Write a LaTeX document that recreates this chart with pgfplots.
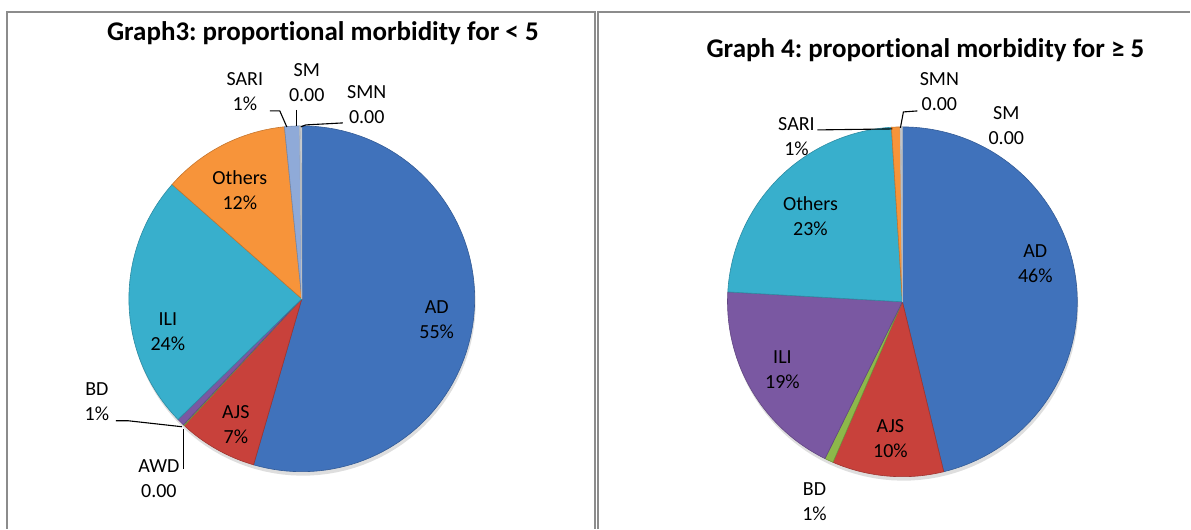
\documentclass[border=0pt]{standalone}
\usepackage{fontspec}
\setmainfont{Carlito}[Ligatures=NoCommon]
\usepackage{pgfplots}
\pgfplotsset{compat=1.18}
\frenchspacing
\definecolor{cAD}{HTML}{4072BB}
\definecolor{cAJS}{HTML}{C8413B}
\definecolor{cGreen}{HTML}{8DB84A}
\definecolor{cPurple}{HTML}{7A58A2}
\definecolor{cTeal}{HTML}{38AFCC}
\definecolor{cOrange}{HTML}{F7943A}
\definecolor{cLight}{HTML}{8FAAD8}
\definecolor{cPale}{HTML}{E4E8EE}
\definecolor{frame}{HTML}{8C8C8C}
% pie geometry (axis units = px)
\def\cx{0}\def\cy{0}\def\rr{0}\gdef\cum{0}
\newcommand\slice[2]{%
  \pgfmathsetmacro\sa{90-3.6*\cum}%
  \pgfmathsetmacro\sb{90-3.6*(\cum+#1)}%
  \edef\doit{\noexpand\addplot[fill=#2, draw=#2!80!black, line width=0.6pt,
     domain=\sb:\sa, samples=90, variable=\noexpand\t]
     ({\cx+\rr*cos(\noexpand\t)},{\cy-\rr*sin(\noexpand\t)}) -- (axis cs:\cx,\cy) -- cycle;}%
  \doit
  \pgfmathsetmacro\newcum{\cum+#1}\xdef\cum{\newcum}}
\newcommand\shadow{%
  \edef\doit{\noexpand\addplot[fill=black!13, draw=none, domain=0:360, samples=120, variable=\noexpand\t]
     ({\cx+1+\rr*cos(\noexpand\t)},{\cy+4+\rr*sin(\noexpand\t)}) -- cycle;}\doit}
\newcommand\lbl{\fontsize{20pt}{25pt}\selectfont}
\begin{document}
\begin{tikzpicture}
\path (0,0) rectangle (1191pt,529pt);
\begin{axis}[at={(0,0)}, anchor=south west, width=1191pt, height=529pt,
  scale only axis, xmin=0, xmax=1191, ymin=0, ymax=529, y dir=reverse,
  hide axis, clip=false]
% frames
\addplot[frame, line width=1.6pt] coordinates {(7,529) (7,12) (595.5,12) (595.5,529)};
\addplot[frame, line width=1.6pt] coordinates {(598.5,529) (598.5,12) (1191,12)};
% ---- Graph 3 (< 5): AD, AJS, AWD, BD, ILI, Others, SARI, SM, SMN
\def\cx{302}\def\cy{299}\def\rr{173}\gdef\cum{0}
\shadow
\slice{54.5}{cAD}
\slice{7.4}{cAJS}
\slice{0.1}{cGreen}
\slice{0.7}{cPurple}
\slice{23.8}{cTeal}
\slice{11.9}{cOrange}
\slice{1.4}{cLight}
\slice{0.1}{cPale}
\slice{0.1}{cPale}
% ---- Graph 4 (>= 5): AD, AJS, BD, ILI, Others, SARI, SMN, SM
\def\cx{903}\def\cy{302}\def\rr{175}\gdef\cum{0}
\shadow
\slice{46.2}{cAD}
\slice{10.3}{cAJS}
\slice{0.8}{cGreen}
\slice{18.6}{cPurple}
\slice{23.1}{cTeal}
\slice{0.8}{cOrange}
\slice{0.1}{cPale}
\slice{0.1}{cPale}
% leader lines
\addplot[black, line width=1.1pt] coordinates {(270,111) (280,111) (287,127)};
\addplot[black, line width=1.1pt] coordinates {(297,110) (297,126)};
\addplot[black, line width=1.1pt] coordinates {(301,127) (306,125) (343,123)};
\addplot[black, line width=1.1pt] coordinates {(116,421) (128,421) (182,427)};
\addplot[black, line width=1.1pt] coordinates {(184,429) (184,469)};
\addplot[black, line width=1.1pt] coordinates {(818,130) (893,129)};
\addplot[black, line width=1.1pt] coordinates {(901,128) (904,112) (918,111)};
% titles
\node[font=\fontsize{27pt}{32pt}\selectfont\bfseries] at (axis cs:323,33) {Graph3: proportional morbidity for < 5};
\node[font=\fontsize{27pt}{32pt}\selectfont\bfseries] at (axis cs:926,50) {Graph 4: proportional morbidity for ≥ 5};
% labels graph 3
\node[align=center, font=\lbl] at (axis cs:245,92) {SARI\\1\%};
\node[align=center, font=\lbl] at (axis cs:307,83) {SM\\0.00};
\node[align=center, font=\lbl] at (axis cs:367,105) {SMN\\0.00};
\node[align=center, font=\lbl] at (axis cs:240,190) {Others\\12\%};
\node[align=center, font=\lbl] at (axis cs:168,332) {ILI\\24\%};
\node[align=center, font=\lbl] at (axis cs:437,320) {AD\\55\%};
\node[align=center, font=\lbl] at (axis cs:236,425) {AJS\\7\%};
\node[align=center, font=\lbl] at (axis cs:97,402) {BD\\1\%};
\node[align=center, font=\lbl] at (axis cs:159,479) {AWD\\0.00};
% labels graph 4
\node[align=center, font=\lbl] at (axis cs:940,92) {SMN\\0.00};
\node[align=center, font=\lbl] at (axis cs:1007,126) {SM\\0.00};
\node[align=center, font=\lbl] at (axis cs:797,137) {SARI\\1\%};
\node[align=center, font=\lbl] at (axis cs:811,216) {Others\\23\%};
\node[align=center, font=\lbl] at (axis cs:1036,264) {AD\\46\%};
\node[align=center, font=\lbl] at (axis cs:783,370) {ILI\\19\%};
\node[align=center, font=\lbl] at (axis cs:891,439) {AJS\\10\%};
\node[align=center, font=\lbl] at (axis cs:815,502) {BD\\1\%};
\end{axis}
\end{tikzpicture}
\end{document}
